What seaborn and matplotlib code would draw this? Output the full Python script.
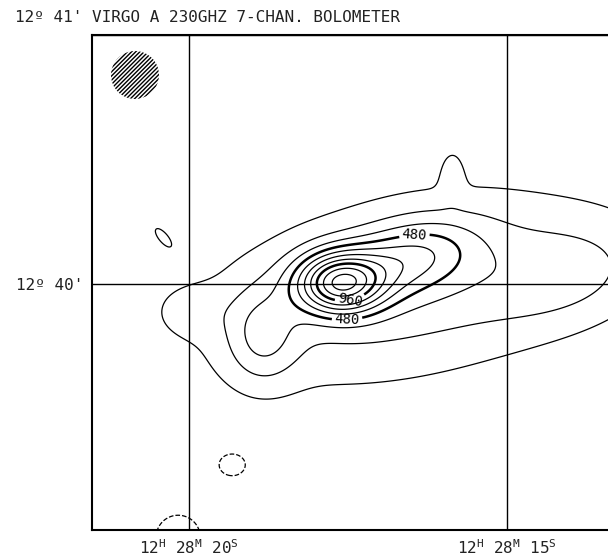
import numpy as np
import matplotlib
matplotlib.use("Agg")
import matplotlib.pyplot as plt
from matplotlib.patches import Ellipse
import seaborn as sns

# ---- data: emission components (RA seconds of 12h28m, Dec arcsec from 12d40') ----
comp_ra = [17.64, 16.60, 16.45, 16.68, 18.85, 19.98, 14.01, 15.86, 20.41, 19.32, 20.17]
comp_dec = [0.24, 6.0, -1.45, 1.0, -12.5, -6.3, 2.2, 26.5, 11.3, -43.5, -61.0]
comp_amp = [850, 380, 230, 80, 250, 90, 150, 130, 160, -230, -250]
comp_sa = [7.2, 12.0, 36.0, 38.0, 6.0, 6.0, 14.0, 1.9, 2.5, 3.0, 4.4]   # arcsec
comp_sb = [5.1, 6.0, 14.5, 19.0, 8.0, 4.3, 8.0, 4.0, 1.0, 2.5, 4.4]     # arcsec
comp_ang = [0, 15, 12, 10, 0, 0, 10, 0, -50, 0, 0]                     # degrees

levels_neg = [-120]
levels_pos = [120, 240, 360, 480, 600, 720, 840, 960, 1080, 1200]
bold_levels = [480, 960]
labelled_levels = [480, 960]

xtick_pos = [20, 15]
xtick_lab = [r"12$^{\mathrm{H}}$ 28$^{\mathrm{M}}$ 20$^{\mathrm{S}}$",
             r"12$^{\mathrm{H}}$ 28$^{\mathrm{M}}$ 15$^{\mathrm{S}}$"]
ytick_pos = [0, 60]
ytick_lab = ["12º 40'", "12º 41'"]
title = "VIRGO A 230GHZ 7-CHAN. BOLOMETER"

# ---- style ----
sns.set_theme(style="white")
plt.rcParams["font.family"] = ["DejaVu Sans Mono", "DejaVu Sans"]
plt.rcParams["mathtext.fontset"] = "custom"
plt.rcParams["mathtext.rm"] = "DejaVu Sans Mono"
plt.rcParams["mathtext.it"] = "DejaVu Sans Mono"
plt.rcParams["hatch.linewidth"] = 1.0

W, H = 608, 556
fig = plt.figure(figsize=(W / 100, H / 100), dpi=100)
ax_left, ax_top, ax_bot, ax_right = 92, 35, 530, 625
ax = fig.add_axes([ax_left / W, (H - ax_bot) / H, (ax_right - ax_left) / W, (ax_bot - ax_top) / H])

px_per_s = 63.6
px_per_as = 4.15
x_left = 20 + (189 - ax_left) / px_per_s
x_right = 20 - (ax_right - 189) / px_per_s
y_top = (284 - ax_top) / px_per_as
y_bot = -(ax_bot - 284) / px_per_as


def px2data(px, py):
    return 20 - (px - 189) / px_per_s, (284 - py) / px_per_as


ra = np.linspace(x_left + 0.2, x_right - 0.2, 500)
dec = np.linspace(y_bot - 5, y_top + 5, 500)
RA, DEC = np.meshgrid(ra, dec)
scale = px_per_s / px_per_as
U = (20 - RA) * scale
V = DEC
Z = np.zeros_like(U)
for r0, d0, A, sa, sb, an in zip(comp_ra, comp_dec, comp_amp, comp_sa, comp_sb, comp_ang):
    du = U - (20 - r0) * scale
    dv = V - d0
    t = np.deg2rad(an)
    a = du * np.cos(t) + dv * np.sin(t)
    b = -du * np.sin(t) + dv * np.cos(t)
    Z += A * np.exp(-0.5 * ((a / sa) ** 2 + (b / sb) ** 2))

plain = [l for l in levels_pos if l not in labelled_levels]
lws = [1.8 if l in bold_levels else 0.9 for l in plain]
ax.contour(RA, DEC, Z, levels=plain, colors="black", linewidths=lws)
ax.contour(RA, DEC, Z, levels=levels_neg, colors="black", linewidths=0.9, linestyles="dashed")

lab_px = {480: [(415, 243), (347, 318)], 960: [(350, 300)]}
for lev in labelled_levels:
    c = ax.contour(RA, DEC, Z, levels=[lev], colors="black",
                   linewidths=1.8 if lev in bold_levels else 0.9)
    ax.clabel(c, manual=[px2data(*p) for p in lab_px[lev]], fmt="%d",
              fontsize=10, inline=True, inline_spacing=2)

# beam
ax.add_patch(Ellipse(px2data(135, 75), width=48 / px_per_s, height=48 / px_per_as,
                     fill=False, hatch="////////", edgecolor="black", linewidth=0))

ax.set_xlim(x_left, x_right)
ax.set_ylim(y_bot, y_top)
ax.set_xticks(xtick_pos, xtick_lab)
ax.set_yticks(ytick_pos, [ytick_lab[0], ""])
ax.grid(True, color="black", linewidth=1.0)
ax.tick_params(length=0, labelsize=11.5, pad=6, colors="#222222")
for s in ax.spines.values():
    s.set_color("black")
    s.set_linewidth(1.5)

fig.text(92 / W, 1 - 18 / H, title, fontsize=11.5, ha="left", va="center", color="#222222")
fig.text(82 / W, 1 - 18 / H, ytick_lab[1], fontsize=11.5, ha="right", va="center", color="#222222")

fig.savefig("out.png", dpi=100)
